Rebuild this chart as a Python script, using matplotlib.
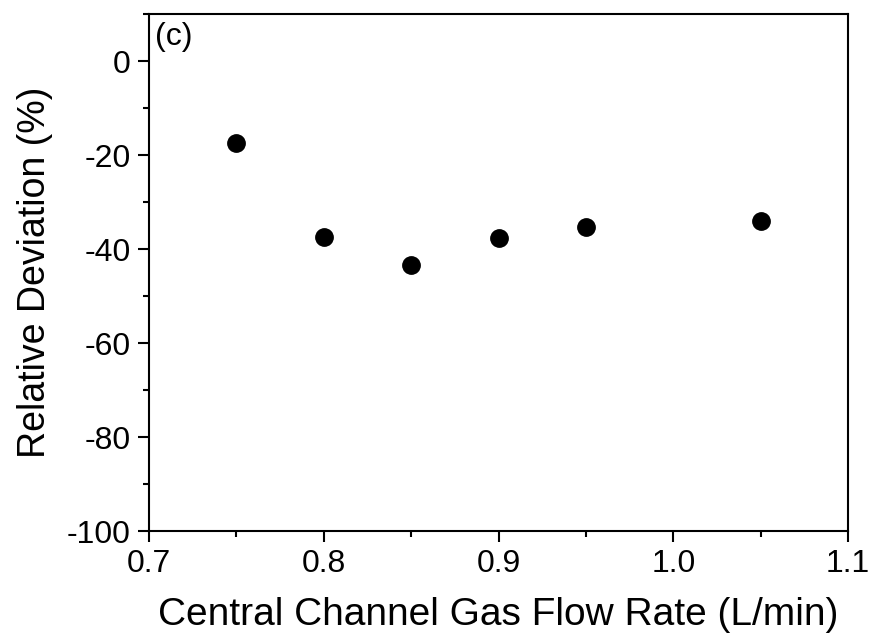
import matplotlib
matplotlib.use("Agg")
import matplotlib.pyplot as plt
from matplotlib.ticker import MultipleLocator

# 중심 채널 가스 유량 vs 상대 편차
flow_rate = [0.75, 0.80, 0.85, 0.90, 0.95, 1.05]
deviation = [-17.4, -37.5, -43.5, -37.7, -35.3, -34.0]
x_ticks = [0.7, 0.8, 0.9, 1.0, 1.1]
x_labels = ['0.7', '0.8', '0.9', '1.0', '1.1']

plt.rcParams['font.family'] = ['Liberation Sans', 'DejaVu Sans']
plt.rcParams['axes.unicode_minus'] = False  # 하이픈으로 마이너스 표시

fig = plt.figure(figsize=(8.7, 6.39), dpi=100)
ax = fig.add_axes([0.171, 0.169, 0.804, 0.809])

ax.plot(flow_rate, deviation, 'o', color='black', markersize=12.5)

ax.set_xlim(0.7, 1.1)
ax.set_ylim(-100, 10)
ax.set_xticks(x_ticks)
ax.set_xticklabels(x_labels)
ax.xaxis.set_minor_locator(MultipleLocator(0.05))
ax.yaxis.set_major_locator(MultipleLocator(20))
ax.yaxis.set_minor_locator(MultipleLocator(10))

ax.tick_params(which='major', direction='out', length=8, width=1.5, labelsize=23, pad=5)
ax.tick_params(which='minor', direction='out', length=4, width=1.5)
ax.tick_params(top=False, right=False)
for s in ax.spines.values():
    s.set_linewidth(1.5)

ax.set_xlabel('Central Channel Gas Flow Rate (L/min)', fontsize=28, labelpad=13)
ax.set_ylabel('Relative Deviation (%)', fontsize=27, labelpad=10)
ax.text(0.009, 0.985, '(c)', transform=ax.transAxes, fontsize=23, va='top', ha='left')

fig.savefig('out.png', dpi=100)
